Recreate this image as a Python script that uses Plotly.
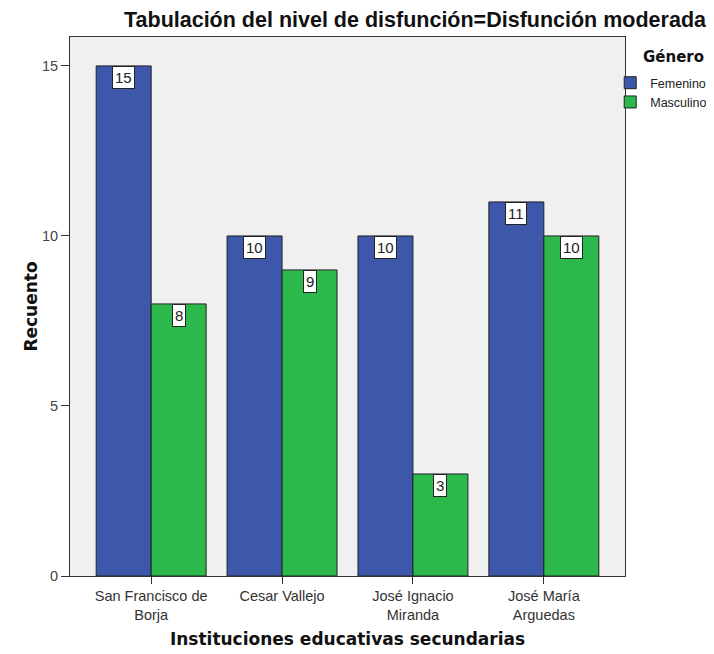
import plotly.graph_objects as go

categories = ["San Francisco de<br>Borja", "Cesar Vallejo", "José Ignacio<br>Miranda", "José María<br>Arguedas"]
femenino = [15, 10, 10, 11]
masculino = [8, 9, 3, 10]
series = [("Femenino", femenino, "#3D57AA"), ("Masculino", masculino, "#2DB84B")]

ARIAL = "Liberation Sans, Arial"
DEJA = "DejaVu Sans"

fig = go.Figure()
for name, vals, color in series:
    fig.add_trace(go.Bar(x=categories, y=vals, name=name,
                         marker=dict(color=color, line=dict(color="#222222", width=1))))

annotations = []
for idx, (name, vals, color) in enumerate(series):
    shift = -27.5 if idx == 0 else 27.5
    for c, v in zip(categories, vals):
        annotations.append(dict(x=c, y=v, xref="x", yref="y", text=str(v), showarrow=False,
                                xshift=shift, yanchor="top", yshift=0,
                                bgcolor="white", bordercolor="#222222", borderwidth=1, borderpad=2,
                                font=dict(family=ARIAL, size=15, color="#222222")))

annotations.append(dict(text="<b>Tabulación del nivel de disfunción=Disfunción moderada</b>",
                        xref="paper", yref="paper", x=1.152, y=1.031, xanchor="right", yanchor="middle",
                        showarrow=False, font=dict(family=ARIAL, size=21.5, color="#111111")))
annotations.append(dict(text="<b>Género</b>", xref="paper", yref="paper", x=1.0288, y=0.963,
                        xanchor="left", yanchor="middle", showarrow=False,
                        font=dict(family=DEJA, size=15, color="#111111")))

fig.update_layout(
    width=706, height=646,
    margin=dict(l=62, r=89, t=29, b=78, autoexpand=False),
    paper_bgcolor="white", plot_bgcolor="#F0F0F0",
    barmode="group", bargap=0.16, bargroupgap=0,
    font=dict(family=ARIAL, color="#222222"),
    legend=dict(xref="container", yref="container", x=0.853, xanchor="left", y=0.907, yanchor="top",
                font=dict(size=12.5, family=ARIAL, color="#222222"), itemwidth=30, tracegroupgap=0,
                bgcolor="rgba(0,0,0,0)"),
    annotations=annotations,
    xaxis=dict(title=dict(text="<b>Instituciones educativas secundarias</b>",
                          font=dict(size=17, family=DEJA, color="#111111"), standoff=10),
               automargin=False,
               range=[-0.62, 3.62], showline=True, linecolor="#333333", mirror=True,
               ticks="outside", ticklen=7, tickcolor="#333333",
               tickfont=dict(size=14.5, color="#333333"), showgrid=False),
    yaxis=dict(title=dict(text="<b>Recuento</b>", font=dict(size=17, family=DEJA, color="#111111"), standoff=0),
               automargin=False,
               range=[0, 15.85], tickvals=[0, 5, 10, 15], showline=True, linecolor="#333333", mirror=True,
               ticks="outside", ticklen=8, tickcolor="#333333",
               tickfont=dict(size=14.5, color="#444444"), showgrid=False, zeroline=False),
)

fig.write_html("out.html")
